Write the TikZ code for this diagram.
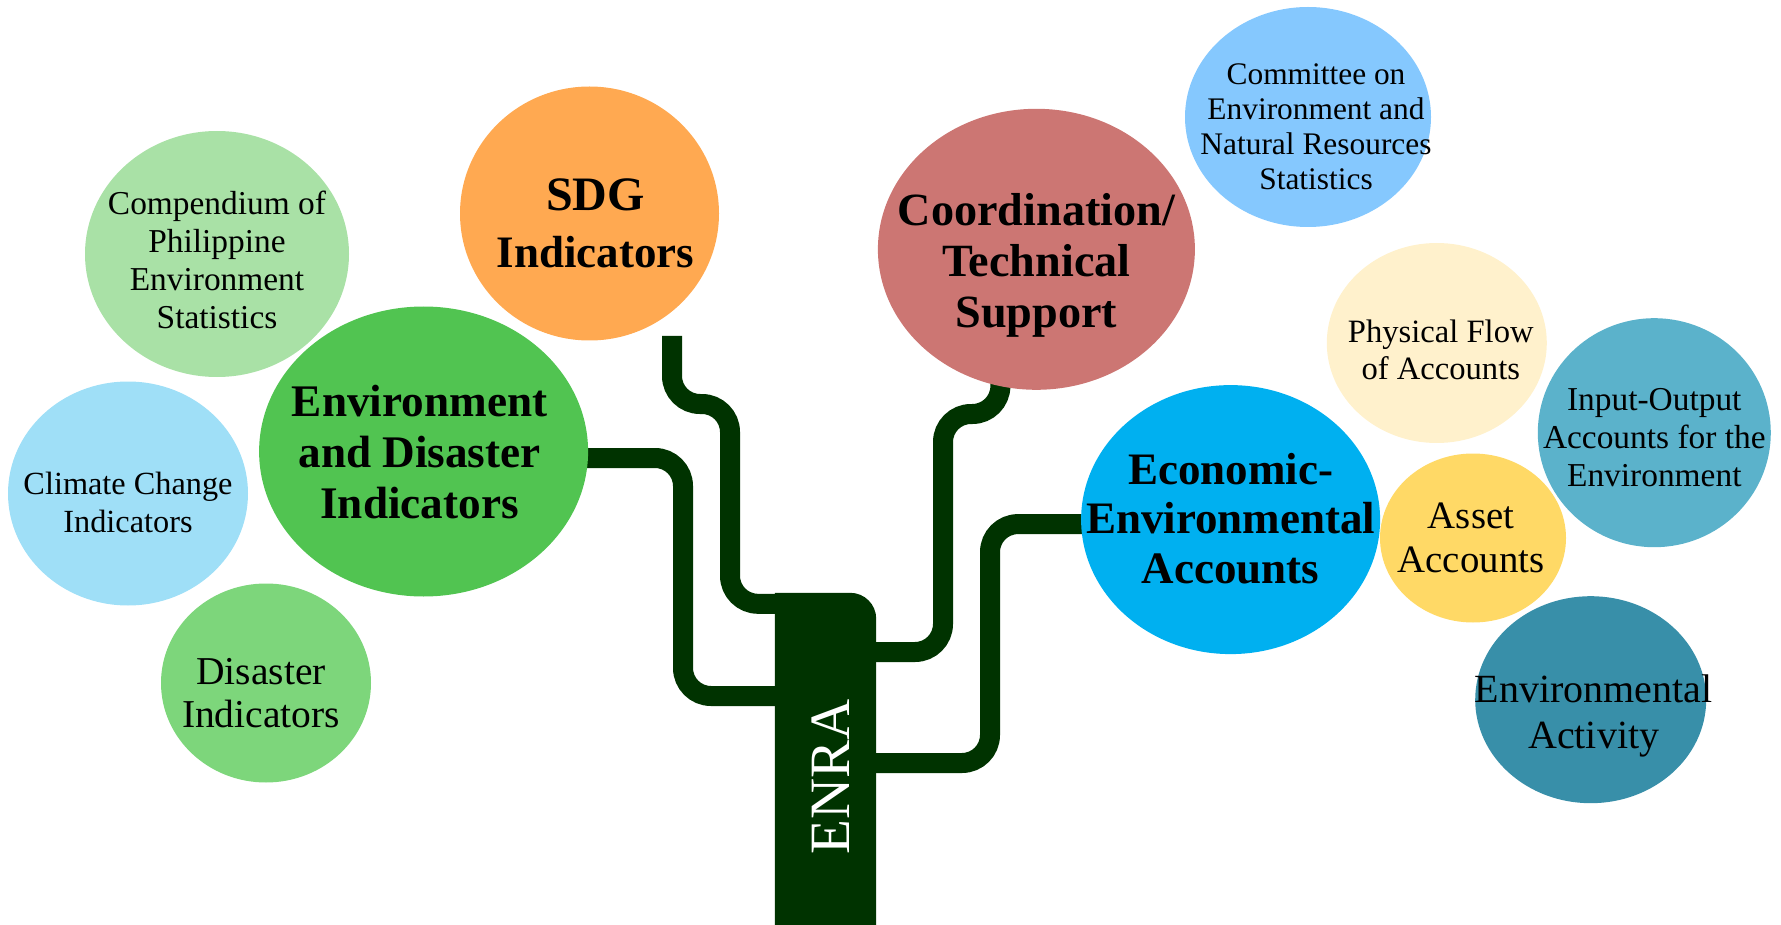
\documentclass[tikz,border=0pt]{standalone}
\usepackage{fontspec}
\setmainfont{Liberation Serif}
\usepackage{tikz}
\usetikzlibrary{shapes.geometric, positioning, backgrounds}

\definecolor{trunkgreen}{HTML}{003300}
\definecolor{compgreen}{HTML}{A9E1A6}
\definecolor{climblue}{HTML}{9FDFF7}
\definecolor{disgreen}{HTML}{7DD67B}
\definecolor{envgreen}{HTML}{51C451}
\definecolor{sdgorange}{HTML}{FFA951}
\definecolor{coordred}{HTML}{CC7673}
\definecolor{commblue}{HTML}{85C8FE}
\definecolor{physcream}{HTML}{FFF1CC}
\definecolor{ioblue}{HTML}{5BB2CB}
\definecolor{econblue}{HTML}{00B0F0}
\definecolor{assetyellow}{HTML}{FFD966}
\definecolor{actteal}{HTML}{388FA9}

\newcommand{\fsz}[2]{\fontsize{#1}{#2}\selectfont}

\tikzstyle{bubble} = [ellipse, inner sep=0pt]
\tikzstyle{bubtext} = [align=center, text=black, inner sep=0pt]
\tikzstyle{maintext} = [bubtext, font=\bfseries]
\tikzstyle{branch} = [line width=20pt, draw=trunkgreen, rounded corners=28pt]
\tikzstyle{trunkbox} = [rectangle, minimum width=101pt, minimum height=367pt]

\begin{document}
\begin{tikzpicture}[x=1pt, y=-1pt]
\useasboundingbox (0,0) rectangle (1781,925);

% left side
\node (comp) [bubble, fill=compgreen, minimum width=264pt, minimum height=246pt] at (217,254) {};
\node (climate) [bubble, fill=climblue, minimum width=240pt, minimum height=224pt] at (128,493.5) {};
\node (disaster) [bubble, fill=disgreen, minimum width=210pt, minimum height=199pt] at (266,683) {};
\node (envdis) [bubble, fill=envgreen, minimum width=329pt, minimum height=290pt] at (423.6,451.5) {};
\node (sdg) [bubble, fill=sdgorange, minimum width=259pt, minimum height=254pt] at (589.5,213.5) {};

\node (comptext) [bubtext, font=\fsz{33.4}{38}] at ([yshift=-5.5pt]comp.center) {Compendium of\\Philippine\\Environment\\Statistics};
\node (climatetext) [bubtext, font=\fsz{32.3}{38.5}] at ([yshift=-9pt]climate.center) {Climate Change\\Indicators};
\node (disastertext) [bubtext, font=\fsz{39.5}{43}] at ([xshift=-5pt,yshift=-10pt]disaster.center) {Disaster\\Indicators};
\node (envdistext) [maintext, font=\bfseries\fsz{45.2}{51}] at ([xshift=-4pt,yshift=-1pt]envdis.center) {Environment\\and Disaster\\Indicators};
\node (sdgtext) [maintext, font=\bfseries\fsz{45}{57}] at ([xshift=6pt,yshift=-10pt]sdg.center) {{\fsz{48}{57}SDG}\\Indicators};

% right side
\node (coord) [bubble, fill=coordred, minimum width=317pt, minimum height=281pt] at (1036.4,249.3) {};
\node (committee) [bubble, fill=commblue, minimum width=246pt, minimum height=220pt] at (1308,117) {};
\node (physical) [bubble, fill=physcream, minimum width=220pt, minimum height=200pt] at (1436.8,343) {};
\node (inout) [bubble, fill=ioblue, minimum width=233pt, minimum height=229pt] at (1654.3,432.7) {};
\node (econ) [bubble, fill=econblue, minimum width=299pt, minimum height=269pt] at (1230.6,519.6) {};
\node (asset) [bubble, fill=assetyellow, minimum width=186pt, minimum height=169pt] at (1473,538) {};
\node (activity) [bubble, fill=actteal, minimum width=231pt, minimum height=207pt] at (1590.7,699.7) {};

\node (coordtext) [maintext, font=\bfseries\fsz{46.2}{51}] at ([yshift=-16pt]coord.center) {Coordination/\\Technical\\Support};
\node (committeetext) [bubtext, font=\fsz{31.4}{35}] at ([xshift=8pt,yshift=-10pt]committee.center) {Committee on\\Environment and\\Natural Resources\\Statistics};
\node (physicaltext) [bubtext, font=\fsz{32.6}{37.5}] at ([xshift=4pt,yshift=-7pt]physical.center) {Physical Flow\\of Accounts};
\node (inouttext) [bubtext, font=\fsz{33.4}{38}] at ([yshift=-5pt]inout.center) {Input-Output\\Accounts for the\\Environment};
\node (econtext) [maintext, font=\bfseries\fsz{45}{49.5}] at ([yshift=1pt]econ.center) {Economic-\\Environmental\\Accounts};
\node (assettext) [bubtext, font=\fsz{38.8}{44}] at ([xshift=-2pt]asset.center) {Asset\\Accounts};
\node (activitytext) [bubtext, font=\fsz{40}{45.5}] at ([xshift=3pt,yshift=-16pt]activity.center) {Environmental\\Activity};

% trunk
\node (trunk) [trunkbox] at (825.5,776.5) {};
\fill [trunkgreen] (trunk.south west) -- (trunk.north west) -- ([xshift=-26pt]trunk.north east)
  arc [start angle=90, end angle=0, radius=26pt] -- (trunk.south east) -- cycle;
\node (enra) [rotate=90, text=white, font=\fsz{57}{60}] at ([xshift=5pt]trunk.center) {ENRA};

\begin{pgfonlayer}{background}
\coordinate (sdgtop) at (672,336);
\coordinate (sdgbend) at (730,404);
\coordinate (edjoint) at (683,696);
\coordinate (cobend) at (943,414);
\coordinate (cojoint) at (943,652);
\coordinate (ecjoint) at (990,763);
\draw [branch] (sdgtop) |- (sdgbend) |- ([xshift=15pt,yshift=-11pt]trunk.north west);
\draw [branch] ([yshift=-6.5pt]envdis.center) -| (edjoint) -- (trunk.west |- edjoint);
\draw [branch] ([xshift=-36pt]coord.center) |- (cobend) -- (cojoint) -- (trunk.east |- cojoint);
\draw [branch] ([yshift=-4.5pt]econ.center) -| (ecjoint) -- (trunk.east |- ecjoint);
\end{pgfonlayer}
\end{tikzpicture}
\end{document}
